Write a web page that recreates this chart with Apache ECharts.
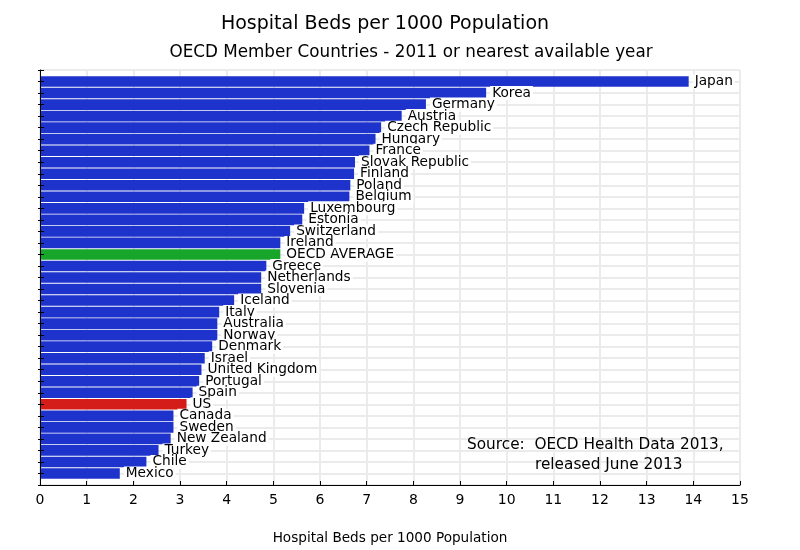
<!DOCTYPE html>
<html>
<head>
<meta charset="utf-8">
<script src="https://cdn.jsdelivr.net/npm/echarts@6/dist/echarts.min.js"></script>
<style>html,body{margin:0;padding:0;background:#fff;}#chart{width:800px;height:550px;}</style>
</head>
<body>
<div id="chart"></div>
<script>
var countries = ['Japan','Korea','Germany','Austria','Czech Republic','Hungary','France','Slovak Republic','Finland','Poland','Belgium','Luxembourg','Estonia','Switzerland','Ireland','OECD AVERAGE','Greece','Netherlands','Slovenia','Iceland','Italy','Australia','Norway','Denmark','Israel','United Kingdom','Portugal','Spain','US','Canada','Sweden','New Zealand','Turkey','Chile','Mexico'];
var beds = [13.9,9.56,8.27,7.75,7.31,7.19,7.06,6.75,6.73,6.65,6.63,5.66,5.62,5.36,5.15,5.15,4.85,4.74,4.74,4.16,3.84,3.8,3.8,3.69,3.53,3.46,3.41,3.27,3.14,2.86,2.86,2.8,2.54,2.28,1.71];
var xTicks = [0,1,2,3,4,5,6,7,8,9,10,11,12,13,14,15];
var titleText = 'Hospital Beds per 1000 Population';
var subtitleText = 'OECD Member Countries - 2011 or nearest available year';
var axisName = 'Hospital Beds per 1000 Population';
var sourceLines = ['Source:  OECD Health Data 2013,', 'released June 2013'];

var FONT = 'DejaVu Sans';
var colorFor = function (name) {
  if (name === 'OECD AVERAGE') return '#17a52a';
  if (name === 'US') return '#d41c18';
  return '#1e33cc';
};
// pad one empty slot at each end of the category axis
var cats = [''].concat(countries).concat([' ']);
var seriesData = ['-'].concat(countries.map(function (c, i) {
  return { value: beds[i], name: c, itemStyle: { color: colorFor(c) } };
})).concat(['-']);

var chart = echarts.init(document.getElementById('chart'));
chart.setOption({
  animation: false,
  backgroundColor: '#fff',
  textStyle: { fontFamily: FONT },
  grid: { left: 40, right: 60, top: 70, bottom: 65, containLabel: false },
  xAxis: {
    type: 'value', min: xTicks[0], max: xTicks[xTicks.length - 1], interval: 1,
    axisLine: { show: true, lineStyle: { color: '#000', width: 1 } },
    axisTick: { show: true, inside: true, length: 4, lineStyle: { color: '#000' } },
    axisLabel: { color: '#000', fontSize: 14, fontFamily: FONT, margin: 8 },
    splitLine: { show: true, lineStyle: { color: '#ebebeb', width: 2 } },
    name: axisName, nameLocation: 'middle', nameGap: 46,
    nameTextStyle: { color: '#000', fontSize: 13.6, fontFamily: FONT }
  },
  yAxis: [{
    type: 'category', data: cats, inverse: true, boundaryGap: false, z: 3,
    axisLine: { show: true, lineStyle: { color: '#000', width: 1 } },
    axisTick: { show: true, inside: true, length: 4, interval: 0, lineStyle: { color: '#000' } },
    axisLabel: { show: false, interval: 0 },
    splitLine: { show: false }
  }, {
    type: 'category', data: cats, inverse: true, boundaryGap: false, position: 'left', z: 0,
    axisLine: { show: false },
    axisTick: { show: true, inside: false, length: 2, interval: 0, lineStyle: { color: '#000' } },
    axisLabel: { show: false, interval: 0 },
    splitLine: { show: true, interval: 0, lineStyle: { color: '#ebebeb', width: 2 } }
  }],
  series: [{
    type: 'bar', yAxisIndex: 0, data: seriesData, barWidth: 10.6,
    label: {
      show: true, position: 'right', distance: 4, formatter: '{b}',
      color: '#000', fontSize: 13.7, fontFamily: FONT,
      backgroundColor: '#fff', padding: [0, 2]
    }
  }],
  graphic: [
    { type: 'text', x: 385, y: 24, style: { text: titleText, fontSize: 19, fontFamily: FONT, fill: '#000', align: 'center', verticalAlign: 'middle' } },
    { type: 'text', x: 411, y: 53, style: { text: subtitleText, fontSize: 16.8, fontFamily: FONT, fill: '#000', align: 'center', verticalAlign: 'middle' } },
    { type: 'text', x: 467, y: 445, z: 10, style: { text: sourceLines[0], fontSize: 15.3, fontFamily: FONT, fill: '#000', align: 'left', verticalAlign: 'middle' } },
    { type: 'text', x: 535, y: 465, z: 10, style: { text: sourceLines[1], fontSize: 15.3, fontFamily: FONT, fill: '#000', align: 'left', verticalAlign: 'middle' } }
  ]
});
</script>
</body>
</html>
